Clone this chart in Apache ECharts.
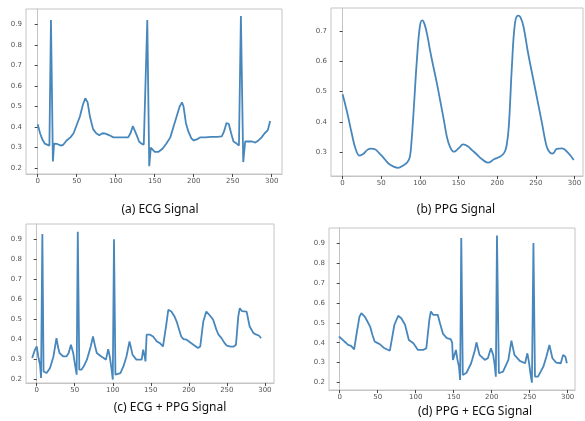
<!DOCTYPE html>
<html><head><meta charset="utf-8">
<script src="https://cdn.jsdelivr.net/npm/echarts@6/dist/echarts.min.js"></script>
<style>html,body{margin:0;padding:0;background:#fff}#c{width:585px;height:421px}</style>
</head><body><div id="c"></div>
<script>
const xTicks = [0, 50, 100, 150, 200, 250, 300];
const yTicksFull = [0.2, 0.3, 0.4, 0.5, 0.6, 0.7, 0.8, 0.9];
const yTicksPPG = [0.3, 0.4, 0.5, 0.6, 0.7];
const captions = ['(a) ECG Signal', '(b) PPG Signal', '(c) ECG + PPG Signal', '(d) PPG + ECG Signal'];

const ecgPoints = [[0,0.414],[3,0.37],[6,0.34],[9,0.32],[12,0.315],[15,0.31],[17,0.92],[19.5,0.233],[21,0.32],[25,0.318],[30,0.31],[33,0.315],[37,0.335],[42,0.35],[46,0.37],[50,0.41],[54,0.45],[58,0.51],[61,0.54],[64,0.52],[67,0.45],[71,0.39],[75,0.37],[79,0.36],[83,0.37],[87,0.368],[92,0.36],[97,0.35],[103,0.35],[110,0.35],[116,0.35],[119,0.37],[122,0.405],[124,0.405],[127,0.36],[130,0.33],[133,0.32],[136,0.315],[138,0.31],[140.5,0.92],[143,0.21],[145,0.3],[147,0.295],[150,0.28],[155,0.28],[160,0.295],[165,0.32],[170,0.35],[174,0.40],[178,0.45],[182,0.5],[185,0.52],[187,0.5],[190,0.42],[193,0.38],[197,0.345],[200,0.335],[204,0.34],[208,0.35],[215,0.35],[222,0.352],[230,0.352],[236,0.355],[239,0.38],[242,0.42],[245,0.415],[248,0.37],[251,0.33],[255,0.32],[258,0.31],[260.5,0.94],[263.5,0.23],[266,0.33],[270,0.33],[275,0.33],[279,0.325],[283,0.335],[287,0.35],[291,0.37],[295,0.385],[298,0.43]];

const ppgPoints = [[0,0.491],[6,0.43],[12,0.36],[17,0.31],[22,0.289],[27,0.295],[32,0.308],[37,0.312],[42,0.31],[47,0.298],[52,0.285],[59,0.264],[66,0.253],[72,0.249],[78,0.256],[84,0.268],[87,0.285],[89,0.33],[92,0.44],[96,0.6],[100,0.715],[103,0.734],[106,0.722],[110,0.68],[113,0.637],[118,0.575],[122,0.527],[127,0.46],[131,0.406],[135,0.35],[139,0.318],[144,0.302],[150,0.313],[156,0.326],[162,0.32],[167,0.308],[172,0.297],[180,0.278],[188,0.266],[196,0.277],[204,0.286],[209,0.298],[212,0.32],[215,0.385],[219,0.582],[223,0.725],[227,0.75],[230,0.745],[234,0.714],[240,0.626],[249,0.511],[258,0.395],[264,0.319],[268,0.3],[272,0.296],[277,0.311],[284,0.313],[292,0.297],[299,0.275]];

const ecgPpgPoints = [[-6,0.305],[-2,0.35],[0,0.363],[2,0.313],[4.4,0.27],[5.7,0.205],[7.4,0.927],[9,0.238],[13,0.23],[17.5,0.255],[22,0.313],[24,0.36],[26,0.405],[28,0.36],[30,0.33],[35,0.313],[39,0.313],[42,0.33],[45,0.372],[48,0.33],[50,0.28],[52.5,0.222],[54,0.938],[56,0.247],[59,0.247],[62,0.265],[66,0.297],[71,0.363],[74,0.413],[77,0.36],[79,0.33],[84,0.315],[88,0.305],[91,0.297],[94,0.35],[96,0.313],[98.5,0.247],[100,0.197],[101.6,0.90],[103.5,0.222],[110,0.23],[114,0.263],[118,0.313],[122,0.388],[126,0.322],[131,0.297],[138,0.297],[140,0.347],[142,0.313],[143,0.288],[144.5,0.422],[149,0.422],[153,0.413],[158,0.388],[162,0.38],[166,0.363],[168,0.37],[170,0.463],[173,0.547],[177,0.538],[181,0.515],[184,0.488],[190,0.413],[193,0.4],[197,0.397],[206,0.372],[212,0.355],[215,0.363],[219,0.488],[223,0.538],[228,0.517],[232,0.497],[236,0.45],[239,0.422],[243,0.405],[247,0.38],[250,0.367],[255,0.362],[259,0.363],[262,0.372],[265,0.513],[267,0.555],[270,0.54],[272,0.538],[276,0.538],[280,0.463],[285,0.43],[289,0.422],[292,0.418],[295,0.405]];

const ppgEcgPoints = [[-1,0.431],[4,0.414],[8,0.4],[11,0.389],[15,0.384],[19,0.367],[22,0.44],[26,0.531],[28.5,0.548],[33,0.531],[36,0.51],[40,0.481],[43,0.44],[46,0.406],[50,0.398],[53,0.392],[59,0.372],[66,0.36],[68,0.363],[72,0.49],[77,0.535],[81,0.523],[86,0.49],[91,0.414],[97,0.397],[103,0.364],[110,0.364],[114,0.372],[118,0.515],[120,0.557],[123,0.54],[129,0.54],[132,0.498],[136,0.444],[141,0.423],[146,0.418],[148,0.4],[149,0.314],[151,0.339],[153,0.364],[155,0.314],[157,0.28],[158.5,0.213],[160,0.925],[162,0.238],[167,0.25],[173,0.297],[178,0.364],[180,0.402],[184,0.339],[191,0.314],[195,0.322],[199,0.372],[202,0.339],[204,0.289],[205.5,0.23],[207,0.937],[209.5,0.247],[215,0.255],[222,0.314],[226,0.41],[230,0.339],[237,0.309],[244,0.297],[247,0.347],[249,0.305],[251,0.247],[253,0.2],[255,0.9],[257,0.23],[261,0.23],[268,0.28],[272,0.33],[276,0.389],[280,0.322],[285,0.3],[291,0.297],[294,0.339],[297,0.33],[299,0.297]];

const panels = [
  {grid:{left:26, top:9, width:256, height:165}, x:[-15,313.2], y:[0.172,0.974], yt:yTicksFull, data:ecgPoints, cap:[160,204]},
  {grid:{left:331, top:8, width:252, height:168}, x:[-15,311], y:[0.222,0.775], yt:yTicksPPG, data:ppgPoints, cap:[456,204]},
  {grid:{left:26, top:224, width:248, height:159}, x:[-14.1,312], y:[0.18,0.977], yt:yTicksFull, data:ecgPpgPoints, cap:[170,402]},
  {grid:{left:329, top:228, width:246, height:162}, x:[-14.1,309.7], y:[0.163,0.975], yt:yTicksFull, data:ppgEcgPoints, cap:[475,406]}
];

const borderCol = '#c4c4c4';
const lbl = {fontSize:7, color:'#555', fontFamily:'DejaVu Sans'};
const option = {
  animation:false,
  backgroundColor:'#fff',
  grid: panels.map(p => Object.assign({show:true, borderColor:borderCol, borderWidth:1, containLabel:false}, p.grid)),
  xAxis: panels.map((p,i) => ({
    type:'value', gridIndex:i, min:p.x[0], max:p.x[1],
    splitLine:{show:false},
    axisLine:{show:true, lineStyle:{color:borderCol}},
    axisTick:{show:true, length:3, customValues:xTicks, lineStyle:{color:'#444'}},
    axisLabel:Object.assign({margin:4, customValues:xTicks, formatter:v=>String(Math.round(v))}, lbl)
  })),
  yAxis: panels.map((p,i) => ({
    type:'value', gridIndex:i, min:p.y[0], max:p.y[1],
    splitLine:{show:false},
    axisLine:{show:true, lineStyle:{color:borderCol}},
    axisTick:{show:true, length:3, customValues:p.yt, lineStyle:{color:'#444'}},
    axisLabel:Object.assign({margin:4, customValues:p.yt, formatter:v=>v.toFixed(1)}, lbl)
  })),
  series: panels.map((p,i) => ({
    type:'line', xAxisIndex:i, yAxisIndex:i, data:p.data, showSymbol:false,
    smooth: i===1 ? 0.4 : false,
    lineStyle:{color:'#4887bc', width:1.8}
  })),
  graphic: panels.map((p,i) => ({
    type:'text', x:p.cap[0], y:p.cap[1],
    style:{text:captions[i], fill:'#111', font:'12px "Noto Sans"', textAlign:'center', textVerticalAlign:'top'}
  }))
};
const chart = echarts.init(document.getElementById('c'), null, {renderer:'canvas'});
chart.setOption(option);
</script>
</body></html>
